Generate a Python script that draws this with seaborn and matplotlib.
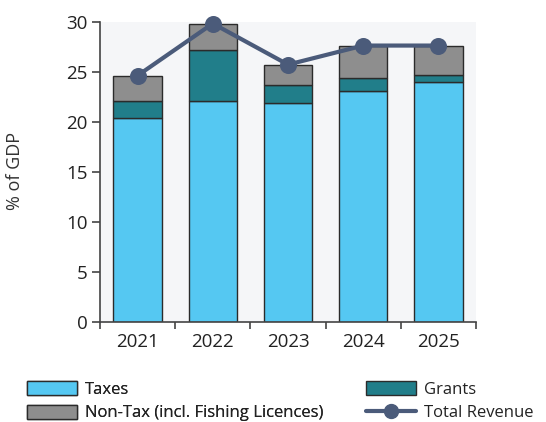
import matplotlib
matplotlib.use("Agg")
import matplotlib.pyplot as plt
from matplotlib.patches import Patch
from matplotlib.lines import Line2D
import numpy as np
import pandas as pd
import seaborn as sns

# Revenue composition, % of GDP
years = ["2021", "2022", "2023", "2024", "2025"]
taxes = [20.4, 22.1, 21.9, 23.1, 24.0]
grants = [1.7, 5.1, 1.8, 1.3, 0.7]
non_tax = [2.5, 2.6, 2.0, 3.2, 2.9]
total_revenue = [24.6, 29.8, 25.7, 27.6, 27.6]

series_names = ["Taxes", "Grants", "Non-Tax (incl. Fishing Licences)", "Total Revenue"]
colors = {"Taxes": "#55C8F2", "Grants": "#217E8A",
          "Non-Tax (incl. Fishing Licences)": "#8E8E8E",
          "Total Revenue": "#4B5B7A"}

sns.set_style("white")
plt.rcParams["font.family"] = ["Open Sans", "DejaVu Sans"]

df = pd.DataFrame({"year": years, "taxes": taxes, "grants": grants,
                   "non_tax": non_tax, "total": total_revenue})
base_grants = np.array(taxes)
base_nontax = base_grants + np.array(grants)

fig = plt.figure(figsize=(5.46, 4.22), dpi=100)
ax = fig.add_axes([0.183, 0.237, 0.689, 0.712])
ax.set_facecolor("#F5F6F8")

bar_kw = dict(width=0.64, edgecolor="#2B2B2B", linewidth=1.0, saturation=1, ax=ax)
sns.barplot(data=df, x="year", y="taxes", color=colors["Taxes"], **bar_kw)
sns.barplot(data=df, x="year", y="grants", bottom=base_grants,
            color=colors["Grants"], **bar_kw)
sns.barplot(data=df, x="year", y="non_tax", bottom=base_nontax,
            color=colors["Non-Tax (incl. Fishing Licences)"], **bar_kw)
sns.pointplot(data=df, x="year", y="total", color=colors["Total Revenue"],
              markers="o", markersize=10, linewidth=3.0, ax=ax)
for art in ax.lines + ax.collections:
    art.set_clip_on(False)

ax.set_xlim(-0.5, 4.5)
ax.set_ylim(0, 30)
ax.set_yticks(range(0, 31, 5))
ax.set_xticks(range(len(years)))
ax.set_xticklabels(years)
ax.set_xticks(np.arange(-0.5, len(years), 1.0), minor=True)
ax.tick_params(axis="x", which="major", length=0, pad=8, labelsize=13.5,
               labelcolor="#222222")
ax.tick_params(axis="x", which="minor", length=5, width=1.2, color="#444444",
               direction="out", bottom=True)
ax.tick_params(axis="y", length=6, width=1.2, color="#444444", direction="out",
               left=True, labelsize=13.5, labelcolor="#222222", pad=3)
ax.set_xlabel("")
ax.set_ylabel("% of GDP", fontsize=13, color="#333333")
ax.yaxis.set_label_coords(-0.203, 0.503)

for side in ["top", "right"]:
    ax.spines[side].set_visible(False)
for side in ["left", "bottom"]:
    ax.spines[side].set_color("#444444")
    ax.spines[side].set_linewidth(1.2)

edge = dict(edgecolor="#2B2B2B", linewidth=1.0)
leg_kw = dict(loc="upper left", frameon=False, fontsize=12,
              handlelength=3.0, handleheight=0.9, handletextpad=0.5,
              labelspacing=0.4, borderaxespad=0, borderpad=0,
              labelcolor="#222222")
left_col = fig.legend(
    [Patch(facecolor=colors["Taxes"], **edge),
     Patch(facecolor=colors["Non-Tax (incl. Fishing Licences)"], **edge)],
    [series_names[0], series_names[2]],
    bbox_to_anchor=(0.049, 0.096), **leg_kw)
fig.legend(
    [Patch(facecolor=colors["Grants"], **edge),
     Line2D([0], [0], color=colors["Total Revenue"], lw=3.0, marker="o", markersize=10)],
    [series_names[1], series_names[3]],
    bbox_to_anchor=(0.670, 0.096), **leg_kw)
fig.add_artist(left_col)

fig.savefig("out.png", dpi=100)
